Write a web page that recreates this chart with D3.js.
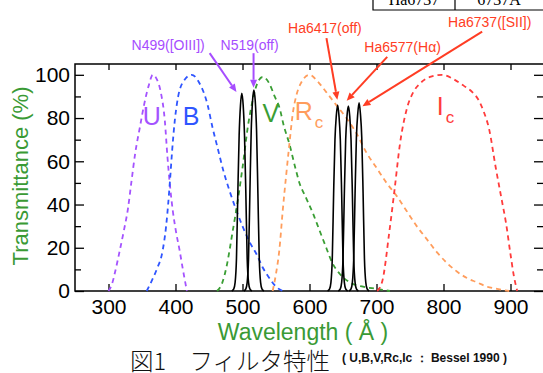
<!DOCTYPE html>
<html>
<head>
<meta charset="utf-8">
<script src="https://cdn.jsdelivr.net/npm/d3@7"></script>
<style>
  html, body { margin: 0; padding: 0; background: #fff; overflow: hidden; }
  svg { display: block; }
</style>
</head>
<body>
<script>
// ---- data (wavelength nm, transmittance %) ----
const filterU = [[300,0],[305,3],[310,9],[317,19],[323,28],[329,38],[334,50],[340,64],[347,76],[353,86],[360,95],[366,100],[372,98],[378,92],[384,79],[388,62],[392,48],[396,37],[401,27],[406,19],[411,10],[417,0]];
const filterB = [[357,0],[365,5],[372,10],[381,19],[386,30],[389,40],[392,52],[395,65],[399,79],[404,90],[412,97],[424,100],[436,96],[448,86],[455,76],[463,66],[472,55],[481,46],[490,38],[500,30],[510,23],[521,17],[530,11],[540,6],[550,2],[560,0]];
const filterV = [[462,0],[470,4],[476,11],[485,27],[493,42],[500,57],[508,76],[515,88],[522,96],[530,99],[540,96],[548,90],[555,85],[562,76],[570,68],[578,58],[585,50],[595,43],[605,36],[615,28],[625,20],[634,13],[645,8],[660,4],[680,2],[700,1],[720,0]];
const filterRc = [[545,0],[550,8],[555,19],[560,37],[565,53],[570,68],[575,82],[580,90],[587,96],[600,100],[612,97],[625,92],[640,86],[655,80],[670,73],[685,64],[700,57],[715,50],[730,44],[745,37],[760,30],[775,24],[790,18],[805,13],[820,9],[835,6],[850,4],[865,2],[880,1],[898,0]];
const filterIc = [[701,0],[709,5],[719,27],[727,47],[735,68],[745,84],[755,92],[765,96],[780,99],[798,100],[815,98],[830,95],[843,92],[853,88],[860,83],[868,75],[878,57],[887,42],[893,32],[900,17],[905,7],[910,0]];

const narrowN499 = [[484,0],[487,1],[489,4],[491,15],[493,45],[495,72],[497,86],[499,91.5],[501,86],[503,72],[505,45],[507,15],[509,4],[511,1],[514,0]];
const narrowN519 = [[502,0],[505,1],[507,4],[509,15],[511,45],[513,74],[515,88],[517,93],[519,88],[521,74],[523,45],[525,15],[527,4],[529,1],[532,0]];
const narrowHa6417 = [[627,0],[630,1],[632,4],[634,15],[636,45],[638,70],[640,81],[642,86],[644,81],[646,70],[648,45],[650,15],[652,4],[654,1],[657,0]];
const narrowHa6577 = [[643,0],[646,1],[648,4],[650,15],[652,45],[654,70],[656,81],[658,85.5],[660,81],[662,70],[664,45],[666,15],[668,4],[670,1],[673,0]];
const narrowHa6737 = [[659,0],[662,1],[664,4],[666,15],[668,45],[670,71],[672,82],[674,87],[676,82],[678,71],[680,45],[682,15],[684,4],[686,1],[689,0]];

const broadSeries = [
  { name: 'U', data: filterU, color: '#a453ff' },
  { name: 'B', data: filterB, color: '#2f55ff' },
  { name: 'V', data: filterV, color: '#3a9e34' },
  { name: 'Rc', data: filterRc, color: '#ff9d5c' },
  { name: 'Ic', data: filterIc, color: '#ff3b3b' },
];
const narrowSeries = [narrowN499, narrowN519, narrowHa6417, narrowHa6577, narrowHa6737];

// band letters: [main, subscript, wavelength at left edge, transmittance at baseline]
const bandLabels = [
  ['U', '', 351, 77],
  ['B', '', 411, 77],
  ['V', '', 530, 78],
  ['R', 'c', 578, 79],
  ['I', 'c', 790, 81.5],
];

// annotations: text, text pos (nm, %), arrow from (nm, %), arrow to (nm, %)
const annotations = [
  { text: 'N499([OIII])', at: [389, 111.6], from: [451, 110], to: [491, 92], color: '#a64dff' },
  { text: 'N519(off)',    at: [510.6, 111.6], from: [516.5, 110], to: [516.5, 94], color: '#a64dff' },
  { text: 'Ha6417(off)',  at: [623, 119.4], from: [625.3, 117], to: [641.5, 88.5], color: '#ff3d24' },
  { text: 'Ha6577(H\u03b1)', at: [739, 110.6], from: [716, 108.3], to: [655.5, 88], color: '#ff3d24' },
  { text: 'Ha6737([SII])', at: [869, 122.2], from: [857.7, 120], to: [679, 85.5], color: '#ff3d24' },
];

const xTicks = [300, 400, 500, 600, 700, 800, 900];
const yTicks = [0, 20, 40, 60, 80, 100];
const yMinorTicks = [10, 30, 50, 70, 90];

// ---- layout ----
const W = 543, H = 373;
const plot = { left: 75, right: 544, top: 64, bottom: 291 };
const sans = '"Liberation Sans", Arial, Helvetica, sans-serif';

const svg = d3.select('body').append('svg')
  .attr('width', W)
  .attr('height', H)
  .attr('viewBox', '0 0 ' + W + ' ' + H);

const x = d3.scaleLinear().domain([250, 950]).range([plot.left, plot.right]);
const y = d3.scaleLinear().domain([0, 105]).range([plot.bottom, plot.top]);

// clipped fragment of a table at the very top right
const tableG = svg.append('g').attr('class', 'table-fragment');
tableG.append('path')
  .attr('d', 'M373,0 L373,10 L543,10 M455,0 L455,10')
  .attr('fill', 'none').attr('stroke', '#000').attr('stroke-width', 1.2);
tableG.append('text').attr('x', 414).attr('y', 5).attr('text-anchor', 'middle')
  .style('font-family', '"Liberation Serif", serif').style('font-size', '16px').text('Ha6737');
tableG.append('text').attr('x', 499).attr('y', 5).attr('text-anchor', 'middle')
  .style('font-family', '"Liberation Serif", serif').style('font-size', '16px').text('6737\u00c5');

// ---- axes (ticks pointing inward) ----
const axesG = svg.append('g').attr('class', 'axes');

axesG.append('g')
  .attr('transform', 'translate(0,' + plot.bottom + ')')
  .call(d3.axisBottom(x).tickValues(xTicks).tickSizeInner(-7).tickSizeOuter(0).tickPadding(8));
axesG.append('g')
  .attr('transform', 'translate(0,' + plot.top + ')')
  .call(d3.axisTop(x).tickValues(xTicks).tickSizeInner(-6).tickSizeOuter(0).tickFormat(''));
axesG.append('g')
  .attr('transform', 'translate(' + plot.left + ',0)')
  .call(d3.axisLeft(y).tickValues(yTicks).tickSizeInner(-9).tickSizeOuter(0).tickPadding(5));
axesG.append('g')
  .attr('transform', 'translate(' + plot.left + ',0)')
  .call(d3.axisLeft(y).tickValues(yMinorTicks).tickSizeInner(-6).tickSizeOuter(0).tickFormat(''));
axesG.append('g')
  .attr('transform', 'translate(' + plot.right + ',0)')
  .call(d3.axisRight(y).tickValues(yTicks).tickSizeInner(-10).tickSizeOuter(0).tickFormat(''));
axesG.append('g')
  .attr('transform', 'translate(' + plot.right + ',0)')
  .call(d3.axisRight(y).tickValues(yMinorTicks).tickSizeInner(-7).tickSizeOuter(0).tickFormat(''));

axesG.selectAll('.domain').remove();
axesG.selectAll('.tick line').attr('stroke', '#000').attr('stroke-width', 1.3);
axesG.selectAll('.tick text')
  .attr('fill', '#000')
  .style('font-family', sans)
  .style('font-size', '21px');

// frame
svg.append('rect')
  .attr('x', plot.left).attr('y', plot.top)
  .attr('width', plot.right - plot.left).attr('height', plot.bottom - plot.top)
  .attr('fill', 'none').attr('stroke', '#000').attr('stroke-width', 1.5);

// ---- curves ----
const line = d3.line()
  .x(d => x(d[0]))
  .y(d => y(d[1]))
  .curve(d3.curveMonotoneX);

svg.append('g').attr('class', 'broad')
  .selectAll('path')
  .data(broadSeries)
  .join('path')
  .attr('d', d => line(d.data))
  .attr('fill', 'none')
  .attr('stroke', d => d.color)
  .attr('stroke-width', 1.8)
  .attr('stroke-dasharray', '5,4');

svg.append('g').attr('class', 'narrow')
  .selectAll('path')
  .data(narrowSeries)
  .join('path')
  .attr('d', d => line(d))
  .attr('fill', 'none')
  .attr('stroke', '#000')
  .attr('stroke-width', 1.6);

// band letters
const bandColor = { U: '#a453ff', B: '#2f55ff', V: '#3a9e34', R: '#ff9d5c', I: '#ff3b3b' };
const bandG = svg.append('g').attr('class', 'band-labels');
bandLabels.forEach(b => {
  const t = bandG.append('text')
    .attr('x', x(b[2]))
    .attr('y', y(b[3]))
    .attr('fill', bandColor[b[0]])
    .style('font-family', sans)
    .style('font-size', '25px')
    .text(b[0]);
  if (b[1]) {
    t.append('tspan')
      .attr('dx', 2)
      .attr('dy', 8)
      .style('font-size', '17px')
      .text(b[1]);
  }
});

// annotation arrows + labels
const annG = svg.append('g').attr('class', 'annotations');
annotations.forEach(a => {
  const x0 = x(a.from[0]), y0 = y(a.from[1]);
  const x1 = x(a.to[0]), y1 = y(a.to[1]);
  const ang = Math.atan2(y1 - y0, x1 - x0);
  const headLen = 8, headHalf = 3.5;
  const bx = x1 - headLen * Math.cos(ang), by = y1 - headLen * Math.sin(ang);
  annG.append('line')
    .attr('x1', x0).attr('y1', y0).attr('x2', bx).attr('y2', by)
    .attr('stroke', a.color).attr('stroke-width', 2);
  annG.append('path')
    .attr('d', 'M' + x1 + ',' + y1 +
      ' L' + (bx + headHalf * Math.sin(ang)) + ',' + (by - headHalf * Math.cos(ang)) +
      ' L' + (bx - headHalf * Math.sin(ang)) + ',' + (by + headHalf * Math.cos(ang)) + ' Z')
    .attr('fill', a.color);
  annG.append('text')
    .attr('x', x(a.at[0]))
    .attr('y', y(a.at[1]))
    .attr('text-anchor', 'middle')
    .attr('fill', a.color)
    .style('font-family', sans)
    .style('font-size', '14px')
    .text(a.text);
});

// axis titles
svg.append('text')
  .attr('transform', 'translate(28,176) rotate(-90)')
  .attr('text-anchor', 'middle')
  .attr('fill', '#3a9a35')
  .style('font-family', sans)
  .style('font-size', '22px')
  .text('Transmittance (%)');

svg.append('text')
  .attr('x', 303)
  .attr('y', 340)
  .attr('text-anchor', 'middle')
  .attr('fill', '#3a9a35')
  .style('font-family', sans)
  .style('font-size', '23px')
  .text('Wavelength ( \u00c5 )');

// caption
svg.append('text')
  .attr('x', 130)
  .attr('y', 370)
  .attr('fill', '#111')
  .style('font-family', '"Noto Sans CJK JP", sans-serif')
  .style('font-weight', 300)
  .style('font-size', '23.5px')
  .text('図1　フィルタ特性');

svg.append('text')
  .attr('x', 342)
  .attr('y', 362)
  .attr('fill', '#111')
  .style('font-family', sans)
  .style('font-weight', 'bold')
  .style('font-size', '12px')
  .text('( U,B,V,Rc,Ic \uff1a Bessel 1990 )');
</script>
</body>
</html>
